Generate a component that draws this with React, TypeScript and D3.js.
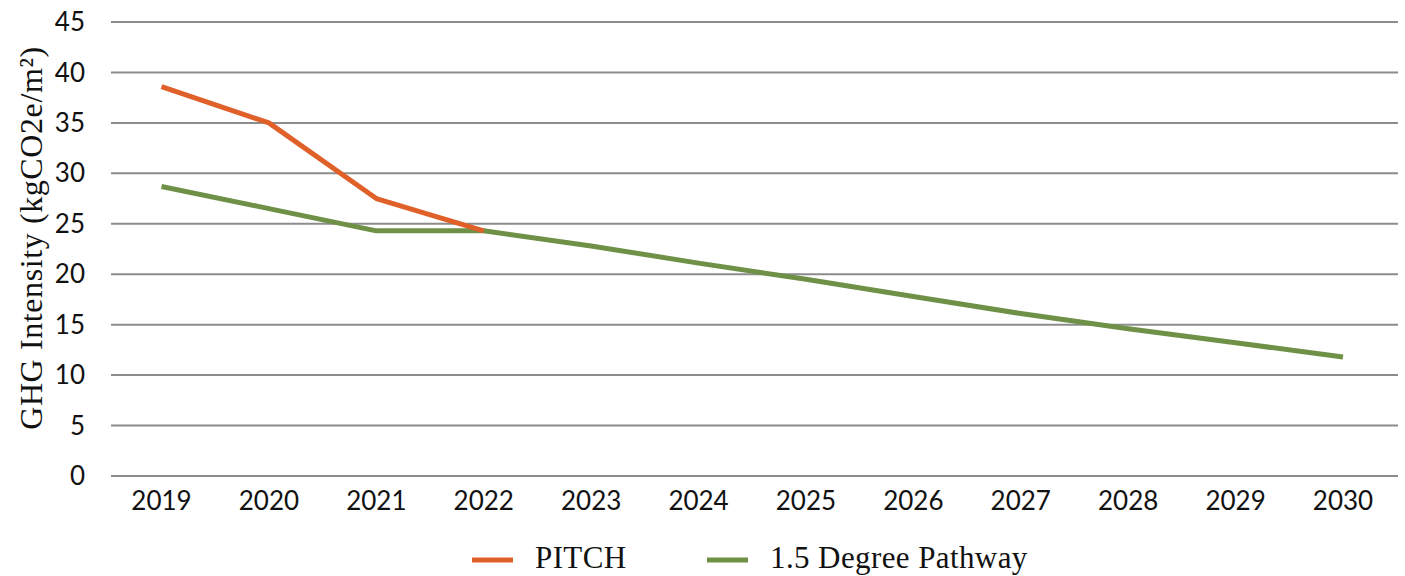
import React from "react";
import * as d3 from "d3";

const years = ["2019", "2020", "2021", "2022", "2023", "2024", "2025", "2026", "2027", "2028", "2029", "2030"];
const pitch = [38.6, 35.0, 27.5, 24.3];
const pathway = [28.7, 26.5, 24.3, 24.3, 22.8, 21.1, 19.5, 17.8, 16.1, 14.6, 13.2, 11.8];
const yTicks = [0, 5, 10, 15, 20, 25, 30, 35, 40, 45];
const seriesNames = ["PITCH", "1.5 Degree Pathway"];
const seriesColors = ["#E0602A", "#6F9147"];

const W = 1405;
const H = 576;

export default function App() {
  const x = d3.scalePoint<string>().domain(years).range([161.5, 1343]);
  const y = d3.scaleLinear().domain([0, 45]).range([476, 22]);
  const line = d3
    .line<number>()
    .x((_, i) => x(years[i]) as number)
    .y((d) => y(d));

  const tickFont = "Lato, 'Open Sans', sans-serif";
  const serifFont = "'Liberation Serif', 'DejaVu Serif', serif";

  return (
    <svg
      width={W}
      height={H}
      style={{ position: "absolute", left: 0, top: 0, background: "#fff" }}
    >
      {yTicks.map((t) => (
        <g key={t}>
          <line x1={111} x2={1398} y1={y(t)} y2={y(t)} stroke="#8C8C8C" strokeWidth={2} />
          <text
            x={85}
            y={y(t)}
            dy="0.35em"
            textAnchor="end"
            fontFamily={tickFont}
            fontSize={26}
            fill="#111"
          >
            {t}
          </text>
        </g>
      ))}
      {years.map((yr) => (
        <text
          key={yr}
          x={x(yr) as number}
          y={510}
          textAnchor="middle"
          fontFamily={tickFont}
          fontSize={26}
          fill="#111"
        >
          {yr}
        </text>
      ))}
      <text
        transform={`translate(42,238) rotate(-90)`}
        textAnchor="middle"
        fontFamily={serifFont}
        fontSize={32}
        letterSpacing={0.6}
        fill="#111"
      >
        GHG Intensity (kgCO2e/m²)
      </text>
      <path d={line(pathway) || ""} fill="none" stroke={seriesColors[1]} strokeWidth={5} strokeLinejoin="round" />
      <path d={line(pitch) || ""} fill="none" stroke={seriesColors[0]} strokeWidth={5} strokeLinejoin="round" />
      {/* legend */}
      {seriesNames.map((name, i) => {
        const lx = i === 0 ? 472 : 707;
        return (
          <g key={name}>
            <line x1={lx} x2={lx + 41} y1={560} y2={560} stroke={seriesColors[i]} strokeWidth={5} />
            <text
              x={lx + 63}
              y={568}
              fontFamily={serifFont}
              fontSize={31}
              letterSpacing={0.4}
              fill="#111"
            >
              {name}
            </text>
          </g>
        );
      })}
    </svg>
  );
}
